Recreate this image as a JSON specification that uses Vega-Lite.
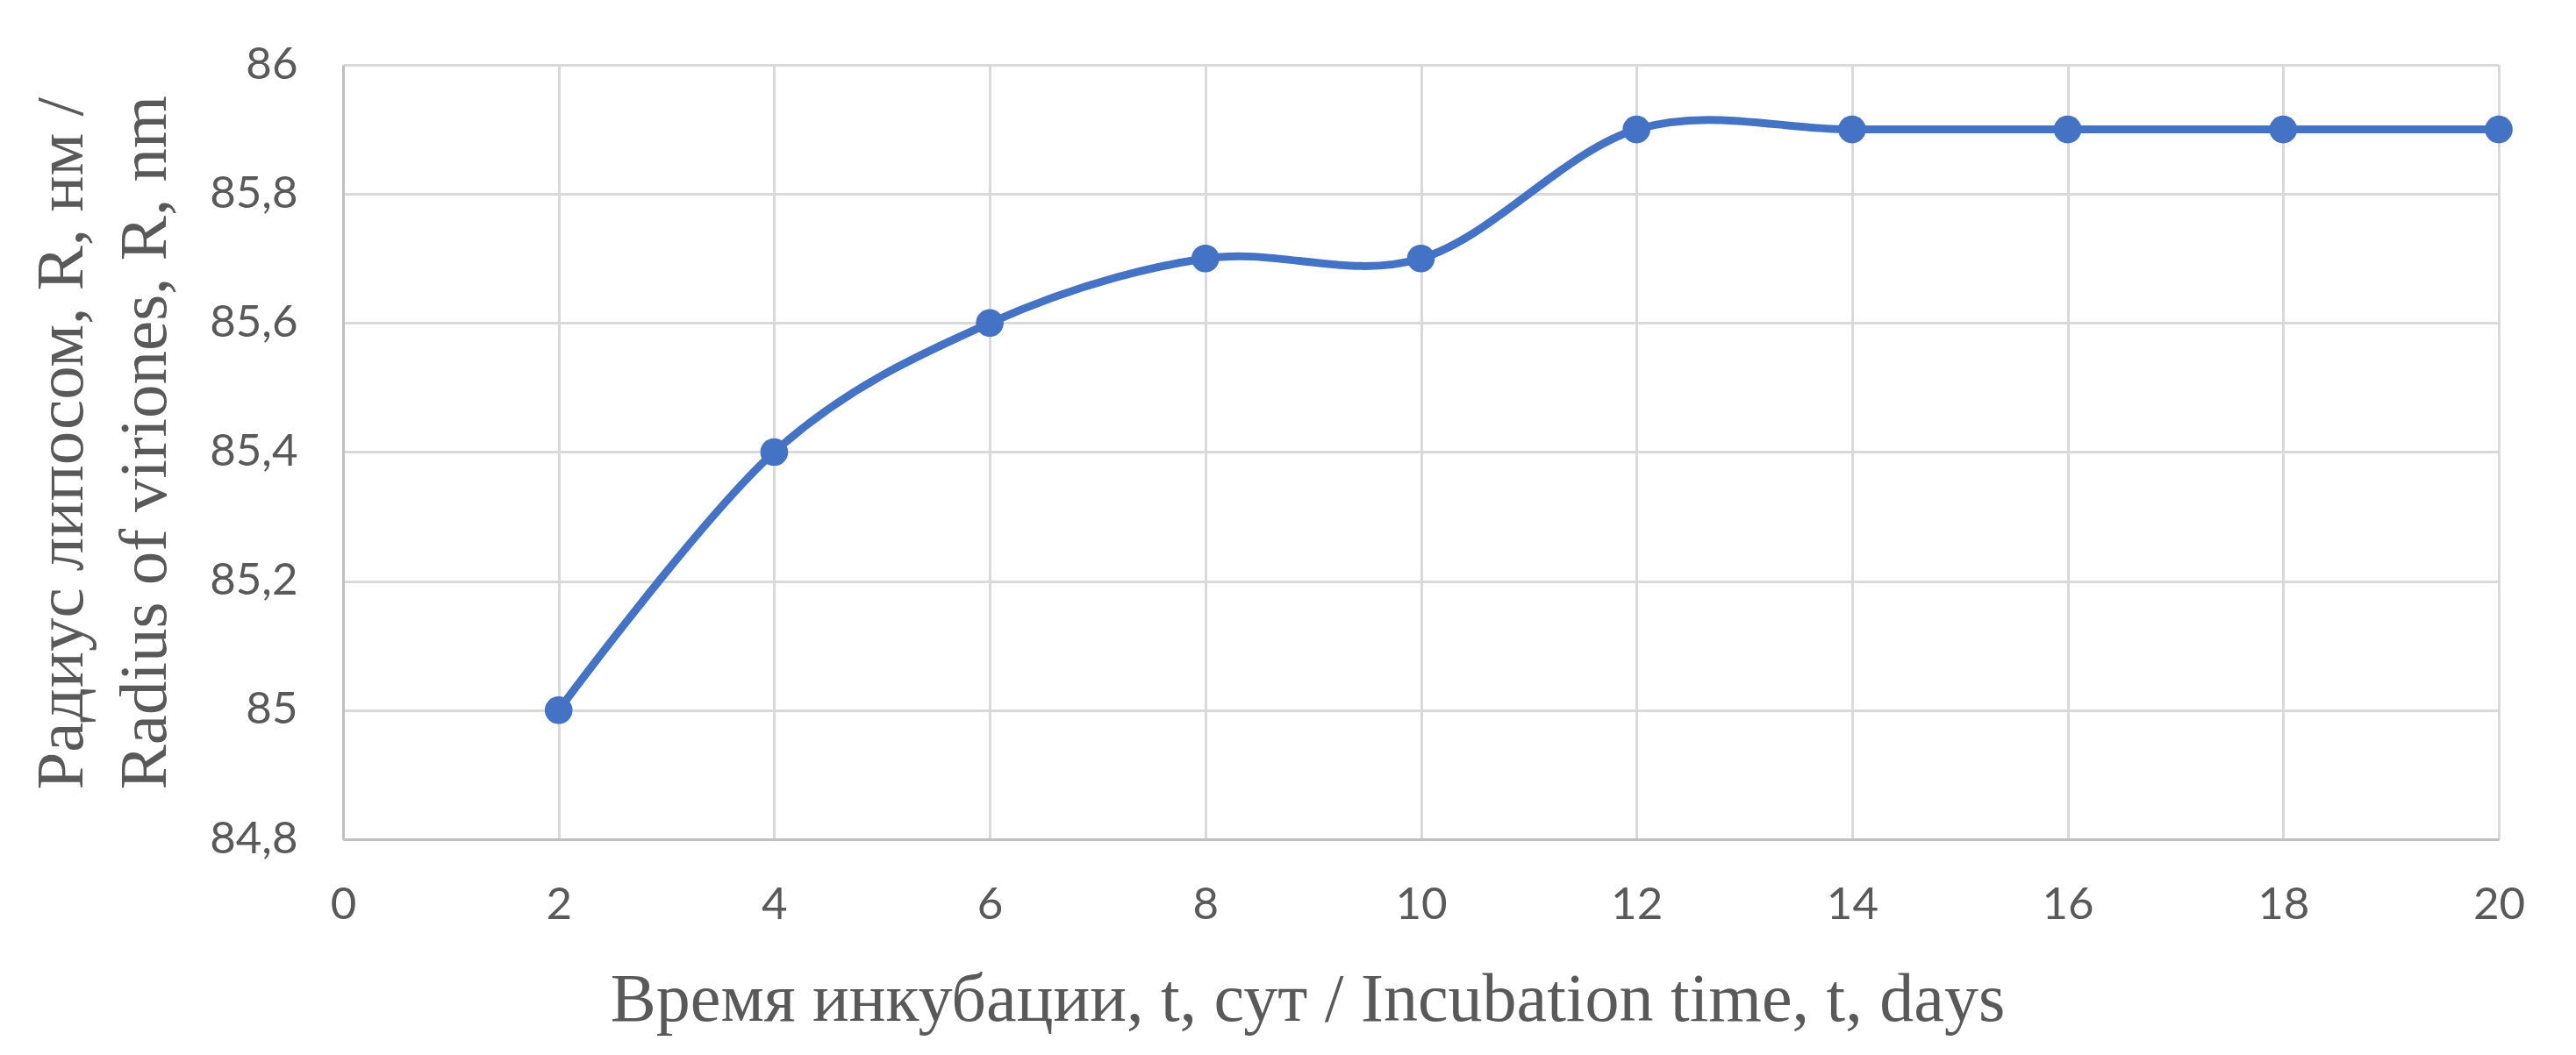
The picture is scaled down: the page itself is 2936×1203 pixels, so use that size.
{
  "$schema": "https://vega.github.io/schema/vega-lite/v6.json",
  "autosize": {"type": "none"},
  "padding": {"left": 391, "top": 74, "right": 88, "bottom": 246},
  "width": 2457,
  "height": 883,
  "background": "white",
  "config": {"view": {"stroke": null}},
  "data": {"values": [
    {"t": 2, "R": 85.0},
    {"t": 4, "R": 85.4},
    {"t": 6, "R": 85.6},
    {"t": 8, "R": 85.7},
    {"t": 10, "R": 85.7},
    {"t": 12, "R": 85.9},
    {"t": 14, "R": 85.9},
    {"t": 16, "R": 85.9},
    {"t": 18, "R": 85.9},
    {"t": 20, "R": 85.9}
  ]},
  "encoding": {
    "x": {
      "field": "t", "type": "quantitative",
      "scale": {"domain": [0, 20], "nice": false, "zero": false},
      "axis": {
        "values": [0, 2, 4, 6, 8, 10, 12, 14, 16, 18, 20],
        "title": "Время инкубации, t, сут / Incubation time, t, days",
        "titleFont": "Liberation Serif", "titleFontSize": 78, "titleFontWeight": "normal",
        "titleColor": "#595959",
        "titleAlign": "center", "titleBaseline": "alphabetic", "titleX": 1099, "titleY": 206,
        "labelFont": "Lato", "labelFontSize": 51, "labelColor": "#595959",
        "labelPadding": 50, "ticks": false,
        "grid": true, "gridColor": "#d9d9d9", "gridWidth": 3,
        "domainColor": "#bfbfbf", "domainWidth": 3,
        "labelFlush": false, "labelOverlap": false
      }
    },
    "y": {
      "field": "R", "type": "quantitative",
      "scale": {"domain": [84.8, 86], "nice": false, "zero": false},
      "axis": {
        "values": [84.8, 85, 85.2, 85.4, 85.6, 85.8, 86],
        "labelExpr": "replace(format(datum.value, '.1~f'), '.', ',')",
        "title": ["Радиус липосом, R, нм /", "Radius of viriones, R, nm"],
        "titleFont": "Liberation Serif", "titleFontSize": 77, "titleFontWeight": "normal",
        "titleColor": "#595959", "titleLineHeight": 95,
        "titleAngle": -90, "titleAlign": "left", "titleBaseline": "alphabetic",
        "titleX": -298, "titleY": 826,
        "labelFont": "Lato", "labelFontSize": 51, "labelColor": "#595959",
        "labelPadding": 52, "ticks": false,
        "grid": true, "gridColor": "#d9d9d9", "gridWidth": 3,
        "domainColor": "#bfbfbf", "domainWidth": 3,
        "labelFlush": false, "labelOverlap": false
      }
    }
  },
  "layer": [
    {"mark": {"type": "line", "interpolate": "cardinal", "tension": 0, "color": "#4472C4", "strokeWidth": 9}},
    {"mark": {"type": "point", "filled": true, "opacity": 1, "size": 1000, "color": "#4472C4"}}
  ]
}
